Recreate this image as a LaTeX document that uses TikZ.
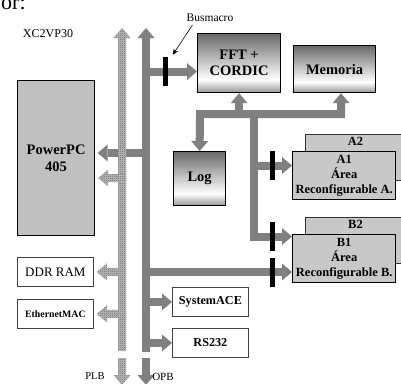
\documentclass[tikz,border=0pt]{standalone}
\usepackage{fontspec}
\setmainfont{Liberation Serif}
\usetikzlibrary{arrows.meta,calc,patterns}
\definecolor{busg}{RGB}{128,128,128}
\definecolor{shb}{RGB}{150,150,150}
\definecolor{sht}{RGB}{105,105,105}
\definecolor{boxg}{RGB}{192,192,192}
\definecolor{areag}{RGB}{200,200,200}
\definecolor{plbbg}{RGB}{185,185,185}
\definecolor{plbfg}{RGB}{105,105,105}
\pgfdeclarepatternformonly{checker}{\pgfpointorigin}{\pgfqpoint{2pt}{2pt}}{\pgfqpoint{2pt}{2pt}}{%
  \pgfpathrectangle{\pgfpointorigin}{\pgfqpoint{1pt}{1pt}}%
  \pgfpathrectangle{\pgfqpoint{1pt}{1pt}}{\pgfqpoint{1pt}{1pt}}%
  \pgfusepath{fill}}
\pgfdeclareverticalshading{boxshade}{100bp}{color(0bp)=(shb); color(25bp)=(shb); color(36bp)=(white); color(75bp)=(sht); color(100bp)=(sht)}
\pgfdeclarelayer{bg}
\pgfsetlayers{bg,main}
\newcommand\fsz[2]{\fontsize{#1}{#2}\selectfont}
\newcommand\plbarrow[2]{%
  \path[plbfill] let \p1=(#2.east |- #1), \p2=(plbx) in
  (\x2+4pt,\y1+4pt) -- (\x1+13pt,\y1+4pt) -- (\x1+13pt,\y1+8.5pt) -- (\x1+3pt,\y1)
  -- (\x1+13pt,\y1-8.5pt) -- (\x1+13pt,\y1-4pt) -- (\x2+4pt,\y1-4pt) -- cycle;}
\begin{document}
\begin{tikzpicture}[x=1pt,y=-1pt,
  >={Triangle[width=17pt,length=10pt,line width=0pt]},
  bus/.style={draw=busg,line width=8pt},
  plbfill/.style={preaction={fill=plbbg},pattern=checker,pattern color=plbfg},
  shbox/.style={draw=black,line width=1.2pt,shading=boxshade,align=center,inner sep=0pt,
    anchor=north west,font=\fsz{14.5}{16}\bfseries},
  wbox/.style={draw=black!75,line width=0.8pt,fill=white,align=center,inner sep=0pt,
    anchor=north west,minimum width=76pt,minimum height=29pt},
  abox/.style={draw=black,line width=1.4pt,fill=areag,align=center,inner sep=0pt,
    anchor=north west,minimum width=103pt,minimum height=48pt,font=\fsz{12.5}{14.8}\bfseries},
  bbox/.style={draw=black!80,line width=1pt,fill=areag,inner sep=0pt,
    anchor=north west,minimum width=100pt,minimum height=46pt},
  bar/.style={fill=black,minimum width=5pt,minimum height=29pt,inner sep=0pt},
  lbl/.style={inner sep=0pt}]
\useasboundingbox (0,0) rectangle (401,383);
\clip (0,0) rectangle (401,383);

% text fragment at the top
\node[lbl,anchor=base west,font=\fsz{22}{24}] (frag) at (1,9) {or:};
\node[lbl,font=\fsz{12}{14}] (chip) at (48,34) {XC2VP30};

% boxes
\node[draw=black,line width=1.2pt,fill=boxg,anchor=north west,inner sep=0pt,
  minimum width=77pt,minimum height=155pt,align=center,font=\fsz{14.5}{17}\bfseries]
  (ppc) at (17,80) {PowerPC\\405};
\node[wbox,font=\fsz{13}{15}] (ddr) at (17,257) {DDR RAM};
\node[wbox,font=\fsz{9.8}{12}\bfseries] (eth) at (17,299) {EthernetMAC};
\node[wbox,font=\fsz{12.2}{14}\bfseries] (sace) at (172,287) {SystemACE};
\node[wbox,font=\fsz{12.2}{14}\bfseries] (rs) at (172,328) {RS232};
\node[shbox,minimum width=83pt,minimum height=59pt] (fft) at (197,33) {FFT +\\CORDIC};
\node[shbox,minimum width=82pt,minimum height=47pt] (mem) at (293,45) {Memoria};
\node[shbox,minimum width=52pt,minimum height=54pt] (log) at (173,151) {Log};
\node[bbox] (a2) at (305,134) {};
\node[lbl,anchor=base,font=\fsz{12.5}{14}\bfseries] (a2t) at ($(a2.north)+(0,11.5)$) {A2};
\node[abox] (a1) at (292,151) {A1\\Área\\Reconfigurable A.};
\node[bbox] (b2) at (305,217) {};
\node[lbl,anchor=base,font=\fsz{12.5}{14}\bfseries] (b2t) at ($(b2.north)+(0,11.5)$) {B2};
\node[abox] (b1) at (292,234) {B1\\Área\\Reconfigurable B.};

% busmacro bars
\node[bar] (bm) at (165,71.5) {};
\node[bar] (abar) at (272,165.5) {};
\node[bar] (bbar1) at (272,236.5) {};
\node[bar] (bbar2) at (272,272) {};

% labels
\node[lbl,font=\fsz{11.5}{13}] (bmlabel) at (210,18) {Busmacro};
\draw[-{Stealth[length=6pt,width=5pt]},line width=0.6pt] ($(bmlabel.south west)+(6,3)$) -- ($(bm.north east)+(5,-2)$);
\node[lbl,font=\fsz{10.5}{12}] (plbl) at (95,376.5) {PLB};
\node[lbl,font=\fsz{11}{12}] (opbl) at (163,376.5) {OPB};

% coordinates
\coordinate (opb) at (146,0);
\coordinate (plbx) at (122,0);
\coordinate (yp1) at (0,153);
\coordinate (yp2) at (0,178);
\coordinate (ibl) at (200,114);
\coordinate (ibr) at (341,114);
\coordinate (vb) at (254,114);

\begin{pgfonlayer}{bg}
  % OPB bus
  \draw[bus,->] (146,352) -- (146,28);
  \draw[bus,->] (146,358) -- (146,385);
  \draw[bus,->] (opb |- bm) -- (fft.west |- bm);
  \draw[bus,->] (opb |- yp1) -- ($(ppc.east |- yp1)+(2.5,0)$);
  \draw[bus,->] (opb |- bbar2) -- (b1.west |- bbar2);
  \draw[bus,->] (opb |- sace) -- (sace.west);
  \draw[bus,->] (opb |- rs) -- (rs.west);
  % internal bus
  \draw[bus,<->,line join=miter] (log.north) -- (ibl) -- (ibr) -- (mem.south -| ibr);
  \draw[bus,->] (fft.south |- ibl) -- (fft.south);
  \draw[bus,->,line join=miter] (vb) |- (b1.west |- bbar1);
  \draw[bus,->] (vb |- abar) -- (a1.west |- abar);
  % PLB bus
  \path[plbfill] (118,351) -- (118,38) -- (113.5,38) -- (122,28) -- (130.5,38) -- (126,38) -- (126,351) -- cycle;
  \path[plbfill] (118,358) -- (118,375) -- (113.5,375) -- (122,385) -- (130.5,375) -- (126,375) -- (126,358) -- cycle;
  \plbarrow{yp2}{ppc}
  \plbarrow{ddr}{ddr}
  \plbarrow{eth}{eth}
\end{pgfonlayer}
\end{tikzpicture}
\end{document}
